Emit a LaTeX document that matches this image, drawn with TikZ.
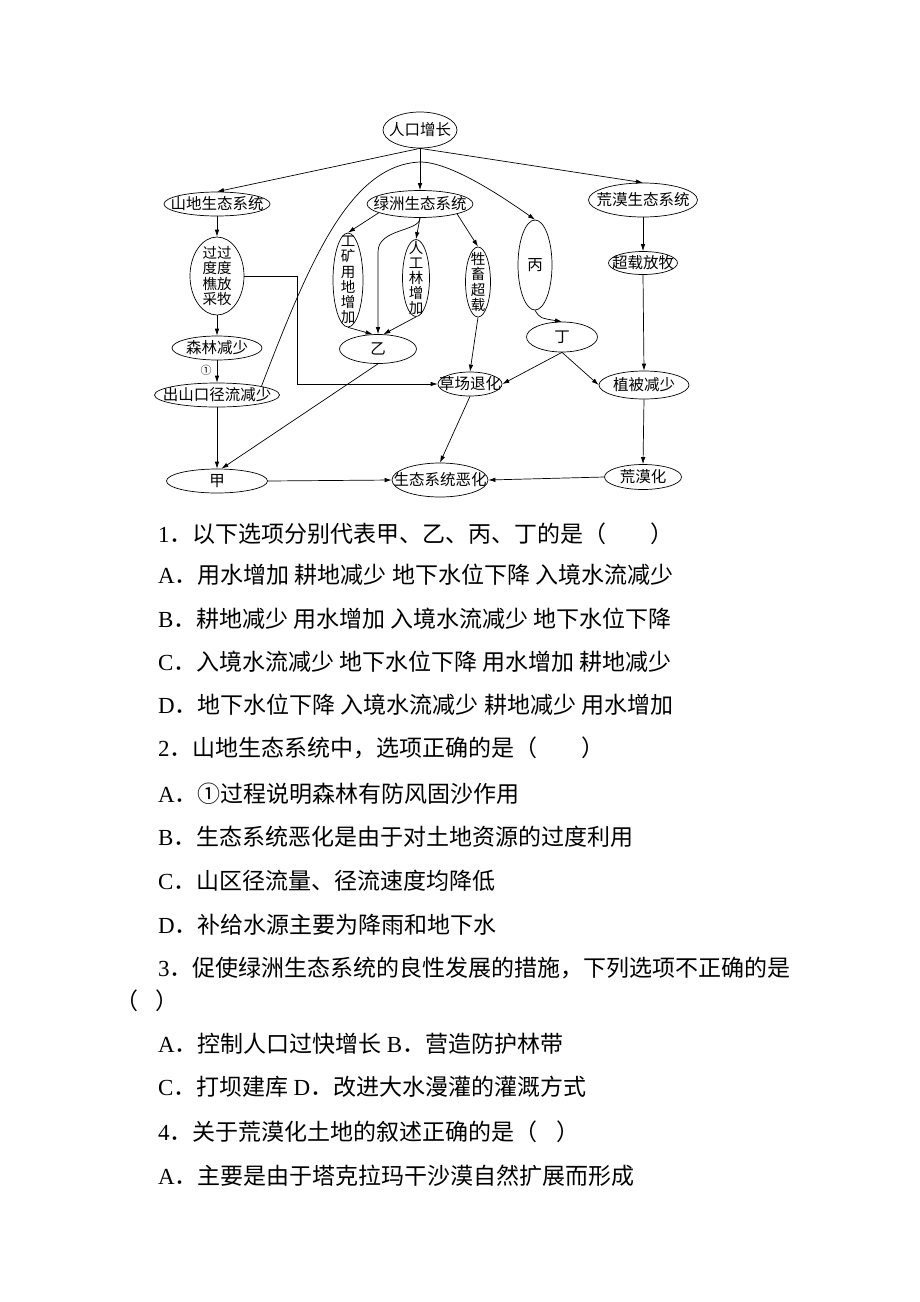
\documentclass[tikz,border=0pt]{standalone}
\usepackage{fontspec}
\setmainfont{Liberation Serif}
\newfontfamily\cjk{Noto Sans CJK SC}
\usetikzlibrary{arrows.meta,shapes.geometric,positioning}
\tikzstyle{ell}=[draw,ellipse,inner sep=0pt,line width=0.7pt]
\tikzstyle{lbl}=[font=\cjk\fontsize{15.5}{15.2}\selectfont,align=center,inner sep=0pt]
\tikzstyle{vlbl}=[font=\cjk\fontsize{14.5}{15.2}\selectfont,align=center,inner sep=0pt]
\tikzstyle{arr}=[-{Latex[length=7pt,width=4.5pt]},line width=0.7pt]
\tikzstyle{qline}=[anchor=base west,inner sep=0pt,font=\cjk\fontsize{23}{26}\selectfont]
\newcommand*{\opt}[1]{\textrm{#1}．}

\begin{document}
\begin{tikzpicture}[x=1pt,y=-1pt]
    \useasboundingbox (0,0) rectangle (920,1302);
    % top of the chart
    \node[ell,minimum width=74,minimum height=36,label={[lbl]center:人口增长}] (renkou) at (420,130) {};
    \node[ell,minimum width=106,minimum height=24,label={[lbl]center:山地生态系统}] (shandi) at (217,204) {};
    \node[ell,minimum width=106,minimum height=27,label={[lbl]center:绿洲生态系统}] (lvzhou) at (420,204) {};
    \node[ell,minimum width=109,minimum height=34,label={[lbl]center:荒漠生态系统}] (huangmo) at (643,200) {};
    % mountain column
    \node[ell,minimum width=54,minimum height=78,label={[vlbl]center:{过过\\度度\\樵放\\采牧}}] (guodu) at (217,276) {};
    \node[ell,minimum width=90,minimum height=24,label={[lbl]center:森林减少}] (senlin) at (217,348) {};
    \node[font=\cjk\fontsize{11}{11}\selectfont,inner sep=0pt] (one) at (206,370) {①};
    \node[ell,minimum width=125,minimum height=24,label={[lbl]center:出山口径流减少}] (chushan) at (217,395) {};
    \node[ell,minimum width=101,minimum height=24,label={[lbl]center:甲}] (jia) at (217,481) {};
    % oasis column
    \node[ell,minimum width=30,minimum height=94,label={[vlbl]center:{工\\矿\\用\\地\\增\\加}}] (gongkuang) at (348,280) {};
    \node[ell,minimum width=27,minimum height=77,label={[vlbl]center:{人\\工\\林\\增\\加}}] (rengonglin) at (416,278) {};
    \node[ell,minimum width=25,minimum height=70,label={[vlbl]center:{牲\\畜\\超\\载}}] (shengchu) at (478,282) {};
    \node[ell,minimum width=34,minimum height=90,label={[lbl]center:丙}] (bing) at (535,265) {};
    \node[ell,minimum width=77,minimum height=29,label={[lbl]center:乙}] (yi) at (378,349) {};
    \node[ell,minimum width=71,minimum height=30,label={[lbl]center:丁}] (ding) at (562,337) {};
    \node[ell,minimum width=64,minimum height=24,label={[lbl]center:草场退化}] (caochang) at (470,384) {};
    \node[ell,minimum width=96,minimum height=34,label={[lbl]center:生态系统恶化}] (shengtai) at (440,480) {};
    % desert column
    \node[ell,minimum width=69,minimum height=23,label={[lbl]center:超载放牧}] (chaozai) at (643,263) {};
    \node[ell,minimum width=90,minimum height=28,label={[lbl]center:植被减少}] (zhibei) at (644,385) {};
    \node[ell,minimum width=77,minimum height=25,label={[lbl]center:荒漠化}] (huangmohua) at (643,477) {};
    % connectors
    \draw[arr] (renkou.south) -- (shandi.north);
    \draw[arr] (renkou.south) -- (lvzhou.north);
    \draw[arr] (renkou.south) -- (huangmo.north);
    \draw[arr] (shandi.south) -- (guodu.north);
    \draw[arr] (guodu.south) -- (senlin.north);
    \draw[arr] (senlin.south) -- (chushan.north);
    \draw[arr] (guodu.east) -- ++(53,0) |- (caochang.west);
    \draw[arr] (chushan.south) -- (jia.north);
    \draw[arr] (chushan.north east) .. controls (310,260) and (350,165) .. (420,162) .. controls (450,162) and (500,195) .. (bing.north);
    \draw[arr] (lvzhou.192) -- (gongkuang.north);
    \draw[arr] (lvzhou.south) -- (rengonglin.north);
    \draw[arr] (lvzhou.-15) -- (shengchu.north);
    \draw[arr] (lvzhou.south) .. controls (420,232) and (378,228) .. (378,252) -- (yi.north);
    \draw[arr] (gongkuang.south) -- (yi.110);
    \draw[arr] (rengonglin.south) -- (yi.70);
    \draw[arr] (shengchu.south) -- (caochang.north);
    \draw[arr] (bing.south) .. controls (540,318) .. (ding.north);
    \draw[arr] (ding.south) -- (caochang.east);
    \draw[arr] (ding.south) -- (zhibei.west);
    \draw[arr] (yi.south) -- (jia.70);
    \draw[arr] (jia.east) -- (shengtai.west);
    \draw[arr] (caochang.south) -- (shengtai.north);
    \draw[arr] (huangmo.south) -- (chaozai.north);
    \draw[arr] (chaozai.south) -- (zhibei.north);
    \draw[arr] (zhibei.south) -- (huangmohua.north);
    \draw[arr] (huangmohua.west) -- (shengtai.east);
    % questions
    \node[qline] (q1) at (158,542) {\opt{1}以下选项分别代表甲、乙、丙、丁的是（\hspace{1.9em}）};
    \node[qline] (q1a) at (158,583) {\opt{A}用水增加 耕地减少 地下水位下降 入境水流减少};
    \node[qline] (q1b) at (158,627) {\opt{B}耕地减少 用水增加 入境水流减少 地下水位下降};
    \node[qline] (q1c) at (158,670) {\opt{C}入境水流减少 地下水位下降 用水增加 耕地减少};
    \node[qline] (q1d) at (158,713) {\opt{D}地下水位下降 入境水流减少 耕地减少 用水增加};
    \node[qline] (q2) at (158,756) {\opt{2}山地生态系统中，选项正确的是（\hspace{1.9em}）};
    \node[qline] (q2a) at (158,802) {\opt{A}①过程说明森林有防风固沙作用};
    \node[qline] (q2b) at (158,845) {\opt{B}生态系统恶化是由于对土地资源的过度利用};
    \node[qline] (q2c) at (158,889) {\opt{C}山区径流量、径流速度均降低};
    \node[qline] (q2d) at (158,933) {\opt{D}补给水源主要为降雨和地下水};
    \node[qline] (q3) at (158,976) {\opt{3}促使绿洲生态系统的良性发展的措施，下列选项不正确的是};
    \node[qline] (q3p) at (115,1009) {（\hspace{0.75em}）};
    \node[qline] (q3a) at (158,1052) {\opt{A}控制人口过快增长 \opt{B}营造防护林带};
    \node[qline] (q3c) at (158,1095) {\opt{C}打坝建库 \opt{D}改进大水漫灌的灌溉方式};
    \node[qline] (q4) at (158,1140) {\opt{4}关于荒漠化土地的叙述正确的是（\hspace{0.8em}）};
    \node[qline] (q4a) at (158,1184) {\opt{A}主要是由于塔克拉玛干沙漠自然扩展而形成};
\end{tikzpicture}
\end{document}
